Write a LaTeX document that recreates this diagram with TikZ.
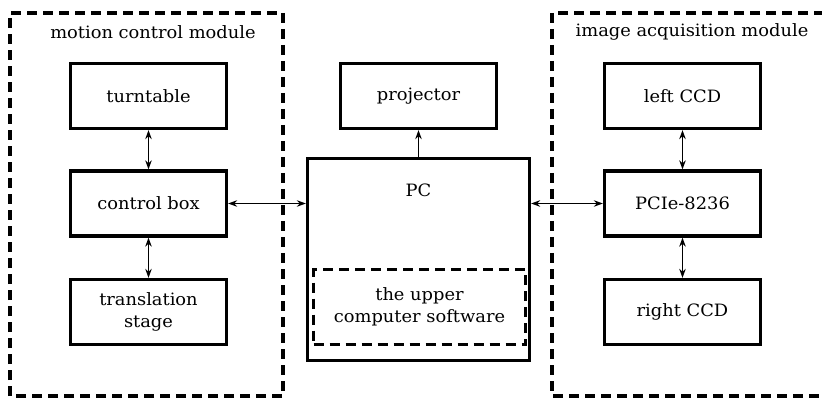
\documentclass[tikz,border=0pt]{standalone}
\usepackage{fontspec}
\setmainfont[FakeStretch=1.05]{DejaVu Serif}
\usetikzlibrary{arrows.meta}
\begin{document}
\begin{tikzpicture}[x=1pt,y=-1pt,
  txt/.style={font=\fontsize{17}{22}\selectfont},
  blk/.style={txt,draw,line width=3.3pt,minimum width=156pt,minimum height=65pt,inner sep=0pt,align=center},
  grp/.style={draw,line width=3.3pt,dash pattern=on 10pt off 6pt},
  lbl/.style={txt,align=center,inner sep=0pt},
  conn/.style={line width=1.3pt,{Stealth[length=9pt,width=6.5pt]}-{Stealth[length=9pt,width=6.5pt]}},
  conn1/.style={line width=1.3pt,-{Stealth[length=9pt,width=6.5pt]}}]
\useasboundingbox (0,0) rectangle (822,398);
% groups
\draw[grp] (10,396) -- (10,13) -- (283,13) -- (283,396) -- cycle;
\draw[grp] (840,13) -- (552,13) -- (552,396) -- (840,396);
\node[lbl] (t1) at (153,32) {motion control module};
\node[lbl] (t2) at (692,32) {image acquisition module};
% left column
\node[blk] (turn) at (148.5,96) {turntable};
\node[blk] (cbox) at (148.5,203.5) {control box};
\node[blk] (trans) at (148.5,312) {translation\\stage};
% center
\node[blk] (proj) at (418.5,96) {projector};
\node[draw,line width=3.3pt,minimum width=222pt,minimum height=202pt,inner sep=0pt] (pc) at (418.5,259.5) {};
\node[lbl] (pclbl) at (418.5,190) {PC};
\node[txt,draw,line width=3.3pt,dash pattern=on 10pt off 6pt,minimum width=212pt,minimum height=75pt,inner sep=0pt,align=center] (sw) at (419.5,307) {the upper\\computer software};
% right column
\node[blk] (lccd) at (682.5,96) {left CCD};
\node[blk] (pcie) at (682.5,203.5) {PCIe-8236};
\node[blk] (rccd) at (682.5,312) {right CCD};
% connectors
\draw[conn] (turn) -- (cbox);
\draw[conn] (cbox) -- (trans);
\draw[conn] (lccd) -- (pcie);
\draw[conn] (pcie) -- (rccd);
\draw[conn] (cbox.east) -- (pc.west |- cbox.east);
\draw[conn] (pcie.west) -- (pc.east |- pcie.west);
\draw[conn1] (pc.north) -- (proj.south);
\end{tikzpicture}
\end{document}
